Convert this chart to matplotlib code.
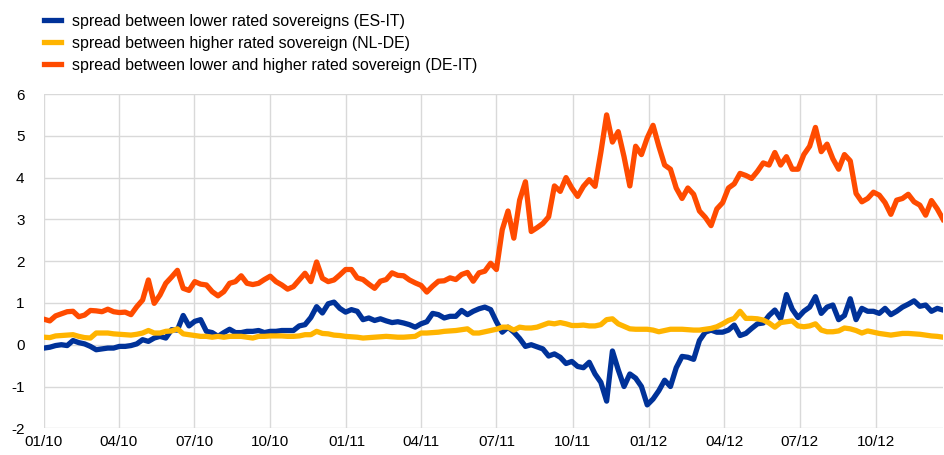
import matplotlib
matplotlib.use("Agg")
import matplotlib.pyplot as plt
import matplotlib.dates as mdates
import pandas as pd

# weekly readings, first week of Jan 2010 to late Dec 2012
start_date = "2010-01-01"

es_it = [-0.08, -0.06, -0.02, 0.0, -0.02, 0.1, 0.05, 0.02, -0.04, -0.12,
         -0.1, -0.08, -0.08, -0.04, -0.04, -0.02, 0.02, 0.12, 0.08, 0.16,
         0.2, 0.16, 0.36, 0.35, 0.7, 0.45, 0.56, 0.6, 0.32, 0.29,
         0.2, 0.29, 0.37, 0.29, 0.29, 0.32, 0.32, 0.34, 0.29, 0.32,
         0.32, 0.34, 0.34, 0.34, 0.45, 0.48, 0.65, 0.91, 0.76, 0.98,
         1.02, 0.87, 0.78, 0.84, 0.8, 0.6, 0.64, 0.58, 0.62, 0.57,
         0.53, 0.55, 0.52, 0.48, 0.42, 0.5, 0.55, 0.75, 0.72, 0.64,
         0.68, 0.68, 0.82, 0.72, 0.8, 0.86, 0.9, 0.84, 0.55, 0.3,
         0.42, 0.3, 0.15, -0.04, 0.0, -0.05, -0.1, -0.27, -0.22, -0.3,
         -0.45, -0.4, -0.52, -0.55, -0.42, -0.7, -0.9, -1.35, -0.15, -0.6,
         -1.0, -0.7, -0.8, -1.0, -1.44, -1.3, -1.1, -0.85, -1.0, -0.55,
         -0.28, -0.3, -0.35, 0.1, 0.3, 0.35, 0.3, 0.3, 0.35, 0.47,
         0.22, 0.27, 0.39, 0.5, 0.52, 0.7, 0.83, 0.62, 1.2, 0.85,
         0.65, 0.8, 0.9, 1.15, 0.75, 0.9, 0.95, 0.6, 0.7, 1.1,
         0.6, 0.87, 0.8, 0.8, 0.75, 0.87, 0.72, 0.8, 0.9, 0.97,
         1.05, 0.92, 0.95, 0.8, 0.87, 0.83]

nl_de = [0.18, 0.17, 0.21, 0.22, 0.23, 0.24, 0.2, 0.17, 0.16, 0.28,
         0.28, 0.28, 0.26, 0.25, 0.24, 0.23, 0.25, 0.28, 0.34, 0.28,
         0.28, 0.32, 0.33, 0.38, 0.26, 0.24, 0.22, 0.2, 0.2, 0.18,
         0.2, 0.18, 0.2, 0.2, 0.2, 0.18, 0.16, 0.2, 0.2, 0.21,
         0.21, 0.21, 0.2, 0.2, 0.21, 0.24, 0.24, 0.32, 0.27, 0.26,
         0.23, 0.22, 0.2, 0.19, 0.18, 0.16, 0.17, 0.18, 0.19, 0.2,
         0.19, 0.18, 0.18, 0.19, 0.2, 0.28, 0.28, 0.29, 0.3, 0.32,
         0.33, 0.34, 0.36, 0.38, 0.28, 0.28, 0.31, 0.34, 0.37, 0.42,
         0.42, 0.35, 0.42, 0.4, 0.4, 0.42, 0.47, 0.52, 0.5, 0.53,
         0.5, 0.46, 0.46, 0.47, 0.45, 0.45, 0.48, 0.6, 0.62, 0.5,
         0.44, 0.38, 0.37, 0.37, 0.37, 0.35, 0.31, 0.34, 0.37, 0.37,
         0.37, 0.36, 0.35, 0.35, 0.37, 0.39, 0.43, 0.5, 0.58, 0.63,
         0.8, 0.63, 0.63, 0.62, 0.59, 0.52, 0.42, 0.53, 0.55, 0.57,
         0.45, 0.43, 0.45, 0.5, 0.35, 0.31, 0.31, 0.33, 0.4, 0.38,
         0.34, 0.28, 0.33, 0.3, 0.27, 0.25, 0.23, 0.25, 0.27, 0.27,
         0.26, 0.25, 0.23, 0.21, 0.2, 0.18]

de_it = [0.61, 0.57, 0.69, 0.74, 0.79, 0.8, 0.67, 0.71, 0.82, 0.81,
         0.79, 0.85, 0.79, 0.77, 0.78, 0.72, 0.91, 1.07, 1.55, 0.99,
         1.19, 1.47, 1.62, 1.78, 1.35, 1.3, 1.51, 1.45, 1.43, 1.27,
         1.17, 1.27, 1.47, 1.51, 1.65, 1.47, 1.44, 1.47, 1.56, 1.64,
         1.51, 1.43, 1.33, 1.39, 1.55, 1.71, 1.51, 1.98, 1.59, 1.51,
         1.55, 1.67, 1.8, 1.8, 1.6, 1.56, 1.45, 1.35, 1.52, 1.56,
         1.72, 1.66, 1.65, 1.55, 1.48, 1.42, 1.26, 1.4, 1.52, 1.53,
         1.6, 1.56, 1.68, 1.73, 1.52, 1.72, 1.76, 1.95, 1.8, 2.75,
         3.2, 2.55, 3.46, 3.9, 2.71, 2.8, 2.9, 3.06, 3.8, 3.67,
         4.0, 3.75, 3.55, 3.79, 3.95, 3.79, 4.6, 5.5, 4.85, 5.1,
         4.5, 3.8, 4.75, 4.55, 4.95, 5.25, 4.75, 4.3, 4.2, 3.75,
         3.5, 3.75, 3.6, 3.2, 3.05, 2.85, 3.25, 3.4, 3.75, 3.85,
         4.1, 4.05, 3.98, 4.15, 4.35, 4.3, 4.6, 4.3, 4.5, 4.2,
         4.2, 4.55, 4.75, 5.2, 4.62, 4.8, 4.45, 4.2, 4.55, 4.4,
         3.62, 3.42, 3.5, 3.65, 3.58, 3.4, 3.12, 3.46, 3.5, 3.6,
         3.42, 3.34, 3.1, 3.45, 3.25, 3.0]

labels = ["spread between lower rated sovereigns (ES-IT)",
          "spread between higher rated sovereign (NL-DE)",
          "spread between lower and higher rated sovereign (DE-IT)"]
colors = ["#003299", "#FFB400", "#FF4B00"]

dates = pd.date_range(start_date, periods=len(de_it), freq="7D")

plt.rcParams["font.family"] = ["Liberation Sans", "DejaVu Sans"]
plt.rcParams["axes.unicode_minus"] = False

fig = plt.figure(figsize=(9.44, 4.55), dpi=100)
ax = fig.add_axes([0.0466, 0.0587, 0.9524, 0.7347])

for vals, lab, col in zip([es_it, nl_de, de_it], labels, colors):
    ax.plot(dates, vals, color=col, lw=3.8, label=lab, solid_joinstyle="round")

ax.set_xlim(pd.Timestamp(start_date), dates[-1])
ax.set_ylim(-2, 6)
ax.set_yticks(range(-2, 7))
ax.xaxis.set_major_locator(mdates.MonthLocator(bymonth=[1, 4, 7, 10]))
ax.xaxis.set_major_formatter(mdates.DateFormatter("%m/%y"))

ax.grid(True, color="#d9d9d9", lw=1)
ax.set_axisbelow(True)
for s in ax.spines.values():
    s.set_visible(False)
ax.tick_params(length=0, labelsize=11, colors="black")
ax.tick_params(axis="y", pad=14)
ax.tick_params(axis="x", pad=5)

fig.legend(loc="upper left", bbox_to_anchor=(0.0466, 0.970), frameon=False,
           fontsize=11.4, handlelength=1.1, handletextpad=0.65,
           labelspacing=0.45, borderpad=0, borderaxespad=0)

plt.savefig("out.png", dpi=100)
